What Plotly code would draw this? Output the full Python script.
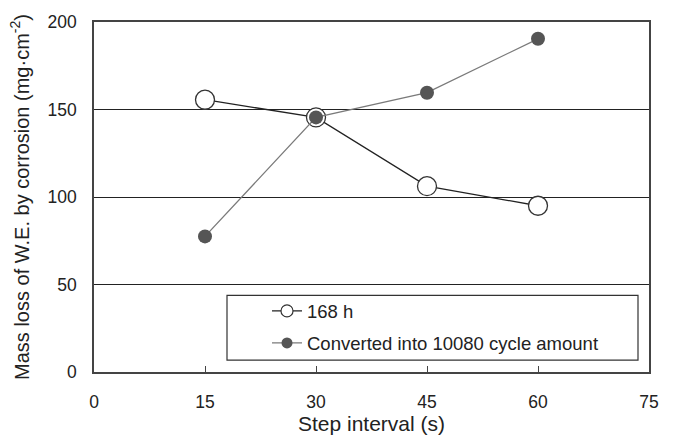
import plotly.graph_objects as go

steps = [15, 30, 45, 60]
loss_168h = [155.6, 145.5, 106.2, 95.0]
loss_converted = [77.5, 145.5, 159.6, 190.4]
x_ticks = [0, 15, 30, 45, 60, 75]
y_ticks = [0, 50, 100, 150, 200]

FONT = "Liberation Sans, Arial, sans-serif"

line_a = dict(color="#222222", width=1.3)
line_b = dict(color="#7a7a7a", width=1.3)

fig = go.Figure()
fig.add_trace(go.Scatter(
    x=steps, y=loss_168h, mode="lines+markers", name="168 h",
    line=line_a,
    marker=dict(symbol="circle", size=19, color="white",
                line=dict(color="#333333", width=1.3)),
    showlegend=False,
))
fig.add_trace(go.Scatter(
    x=steps, y=loss_converted, mode="lines+markers",
    name="Converted into 10080 cycle amount",
    line=line_b,
    marker=dict(symbol="circle", size=14, color="#555555",
                line=dict(color="#555555", width=0)),
    showlegend=False,
))
# legend entries (smaller symbols, as in the reference legend)
fig.add_trace(go.Scatter(
    x=[None], y=[None], mode="lines+markers", name="168 h",
    line=line_a,
    marker=dict(symbol="circle", size=12, color="white",
                line=dict(color="#333333", width=1.2)),
    legendgroup="a",
))
fig.add_trace(go.Scatter(
    x=[None], y=[None], mode="lines+markers",
    name="Converted into 10080 cycle amount",
    line=line_b,
    marker=dict(symbol="circle", size=11, color="#555555",
                line=dict(color="#555555", width=0)),
    legendgroup="b",
))

L, R, T, B = 94, 27, 16, 74
W, H = 676, 446
pw, ph = W - L - R, H - T - B

def px(xp):
    return (xp - L) / pw

def py(yp):
    return (H - B - yp) / ph

fig.add_shape(type="rect", xref="paper", yref="paper",
              x0=px(227), x1=px(638), y0=py(360), y1=py(294),
              line=dict(color="#333333", width=1.2), fillcolor="white", layer="above")

fig.update_layout(
    width=W, height=H,
    margin=dict(l=L, r=R, t=T, b=B),
    paper_bgcolor="white", plot_bgcolor="white",
    font=dict(family=FONT, size=17.5, color="#222222"),
    showlegend=True,
    legend=dict(x=px(267), y=py(291), xanchor="left", yanchor="top",
                bgcolor="rgba(0,0,0,0)", borderwidth=0,
                font=dict(family=FONT, size=18.5, color="#222222"),
                traceorder="grouped", tracegroupgap=5),
    xaxis=dict(range=[0, 75], tickvals=x_ticks, ticktext=[str(v) for v in x_ticks],
               showgrid=False, zeroline=False, showline=True, mirror=True,
               linecolor="#444444", linewidth=1.5,
               ticks="inside", ticklen=6, tickcolor="#444444", tickwidth=1.2,
               tickfont=dict(size=17.5), ticklabelstandoff=13,
               title=dict(text="Step interval (s)", font=dict(size=21), standoff=6)),
    yaxis=dict(range=[0, 200], tickvals=y_ticks, ticktext=[str(v) for v in y_ticks],
               showgrid=True, gridcolor="#222222", gridwidth=1.2, zeroline=False,
               showline=True, mirror=True, linecolor="#444444", linewidth=1.5,
               ticks="", tickfont=dict(size=17.5), ticklabelstandoff=12,
               title=dict(text="Mass loss of W.E. by corrosion (mg·cm<sup>-2</sup>)",
                          font=dict(size=20), standoff=13)),
)

fig.write_html("out.html")
